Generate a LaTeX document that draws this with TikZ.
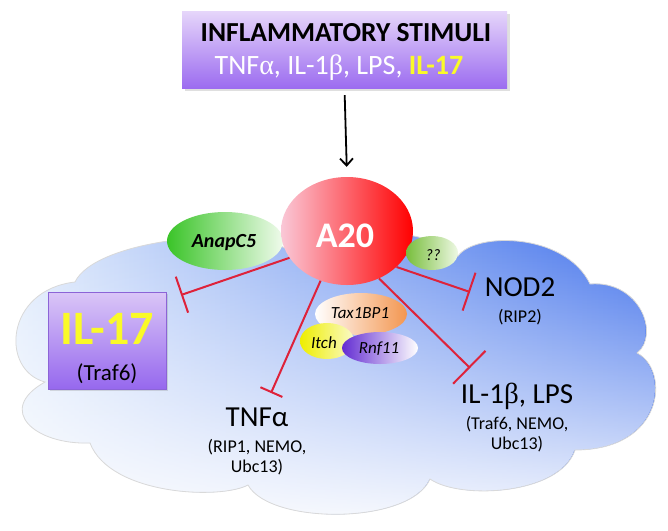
\documentclass[tikz,border=0pt]{standalone}
\usepackage{fontspec}
\setmainfont{Carlito}
\newfontfamily\symf{Liberation Serif}
\usetikzlibrary{arrows.meta,shapes.geometric,fadings}

\definecolor{inhred}{RGB}{222,34,58}
\definecolor{boxtop}{RGB}{230,214,250}
\definecolor{boxbot}{RGB}{156,108,240}
\definecolor{ilboxtop}{RGB}{218,198,247}
\definecolor{ilboxbot}{RGB}{150,104,238}
\definecolor{ilborder}{RGB}{140,100,215}
\definecolor{yel}{RGB}{250,250,40}
\definecolor{cloudL}{RGB}{230,240,253}
\definecolor{cloudM}{RGB}{116,158,240}
\definecolor{cloudR}{RGB}{56,106,234}
\definecolor{anapL}{RGB}{58,196,40}
\definecolor{anapM}{RGB}{140,222,125}
\definecolor{anapR}{RGB}{240,251,236}
\definecolor{qqL}{RGB}{120,190,60}
\definecolor{qqR}{RGB}{238,248,228}
\definecolor{a20L}{RGB}{250,200,215}
\definecolor{a20M}{RGB}{240,40,80}
\definecolor{a20R}{RGB}{255,0,0}
\definecolor{taxR}{RGB}{243,150,80}
\definecolor{taxM}{RGB}{250,208,175}
\definecolor{itchL}{RGB}{238,238,0}
\definecolor{itchR}{RGB}{250,250,200}
\definecolor{rnfL}{RGB}{100,45,210}
\definecolor{rnfM}{RGB}{180,155,235}

\tikzfading[name=cloudfade, top color=transparent!100, middle color=transparent!85, bottom color=transparent!5]

\tikzset{
  blob/.style={ellipse, inner sep=0pt},
  lbl/.style={inner sep=0pt, align=center, text=black},
  inhib/.style={draw=inhred, line width=2pt, -{Bar[width=#1]}},
}

\def\cloudpath{(75,282) .. controls (95,240) and (240,225) .. (285,248)
 .. controls (320,225) and (430,225) .. (458,256)
 .. controls (475,232) and (565,232) .. (590,284)
 .. controls (640,280) and (660,335) .. (637,353)
 .. controls (670,370) and (665,450) .. (575,450)
 .. controls (560,495) and (460,500) .. (430,479)
 .. controls (410,525) and (270,525) .. (248,485)
 .. controls (220,500) and (110,495) .. (90,443)
 .. controls (35,445) and (-5,410) .. (45,382)
 .. controls (0,370) and (5,290) .. (75,282) -- cycle}

\begin{document}
\begin{tikzpicture}[x=1pt,y=-1pt]
\useasboundingbox[fill=white] (0,0) rectangle (668,530);

% cloud
\path[left color=cloudL, middle color=cloudM, right color=cloudR] \cloudpath;
\path[fill=white, path fading=cloudfade] \cloudpath;
\draw[gray!30, line width=0.8pt] \cloudpath;

% top box
\fill[gray, opacity=0.25] (185,14) rectangle (510,91);
\node[rectangle, minimum width=325pt, minimum height=77pt, inner sep=0pt,
      top color=boxtop, bottom color=boxbot] (stim) at (344.5,49.5) {};
\node[lbl, font=\fontsize{27.5}{30}\selectfont\bfseries] (stimT) at (346,33) {INFLAMMATORY STIMULI};
\node[lbl, text=white, font=\fontsize{28}{30}\selectfont] (stimL) at (339,68)
  {TNF{\symf α}, IL-1{\symf β}, LPS, {\bfseries\color{yel}IL-17}};

% IL-17 box
\fill[gray, opacity=0.25] (50,294) rectangle (168,391);
\node[rectangle, minimum width=118pt, minimum height=97pt, inner sep=0pt,
      top color=ilboxtop, bottom color=ilboxbot, draw=ilborder, line width=0.6pt] (il17box) at (107,340.5) {};
\node[lbl, text=yel, font=\fontsize{48}{50}\selectfont\bfseries] (il17) at (107,329) {IL-17};
\node[lbl, font=\fontsize{23}{25}\selectfont] (traf6) at (107,374) {(Traf6)};

% target labels
\node[lbl, font=\fontsize{29}{30}\selectfont] (nod2) at (520,287) {NOD2};
\node[lbl, font=\fontsize{18}{20}\selectfont] (rip2) at (520,317) {(RIP2)};
\node[lbl, font=\fontsize{29}{30}\selectfont] (il1) at (517,396) {IL-1{\symf β}, LPS};
\node[lbl, font=\fontsize{18}{20.5}\selectfont] (il1s) at (517,434) {(Traf6, NEMO,\\Ubc13)};
\node[lbl, font=\fontsize{29}{30}\selectfont] (tnf) at (257,417) {TNFα};
\node[lbl, font=\fontsize{18}{20.5}\selectfont] (tnfs) at (257,457) {(RIP1, NEMO,\\Ubc13)};

% blobs
\node[blob, minimum width=116pt, minimum height=58pt,
      left color=anapL, middle color=anapM, right color=anapR] (anap) at (225,241) {};
\node[lbl, font=\fontsize{20}{22}\selectfont\bfseries\itshape] (anapT) at (224,243) {AnapC5};

\node[blob, minimum width=132pt, minimum height=108pt,
      left color=a20L, middle color=a20M, right color=a20R] (a20) at (347,231) {};
\node[lbl, text=white, font=\fontsize{36}{37}\selectfont\bfseries] (a20T) at (345,236) {A20};

\node[blob, minimum width=52pt, minimum height=34pt,
      left color=qqL, right color=qqR] (qq) at (432,253) {};
\node[lbl, font=\fontsize{16}{18}\selectfont\itshape] (qqT) at (433,255) {??};

\node[blob, minimum width=92pt, minimum height=42pt,
      left color=white, middle color=taxM, right color=taxR] (tax) at (361,314) {};
\node[lbl, font=\fontsize{17}{19}\selectfont\itshape] (taxT) at (360,313) {Tax1BP1};

\node[blob, minimum width=54pt, minimum height=36pt,
      left color=itchL, right color=itchR] (itch) at (327,341) {};
\node[lbl, font=\fontsize{17}{19}\selectfont\itshape] (itchT) at (324,343) {Itch};

\node[blob, minimum width=76pt, minimum height=32pt,
      left color=rnfL, middle color=rnfM, right color=white] (rnf) at (380,348) {};
\node[lbl, font=\fontsize{17}{19}\selectfont\itshape] (rnfT) at (379,349) {Rnf11};

% activation arrow
\draw[line width=1.8pt, -{Straight Barb[length=7pt, width=13pt]}, shorten <=7pt, shorten >=10pt]
  (stim.south) -- (a20.north);

% inhibition connectors
\coordinate (e17) at (181,295);
\coordinate (etnf) at (271,393);
\coordinate (eil1) at (470,368);
\coordinate (enod) at (470,292);
\draw[inhib=38pt] (a20.205.5) -- (e17);
\draw[inhib=24pt] (a20.242.6) -- (etnf);
\draw[inhib=46pt] (a20.304.8) -- (eil1);
\draw[inhib=40pt] (a20.324.7) -- (enod);
\end{tikzpicture}
\end{document}
